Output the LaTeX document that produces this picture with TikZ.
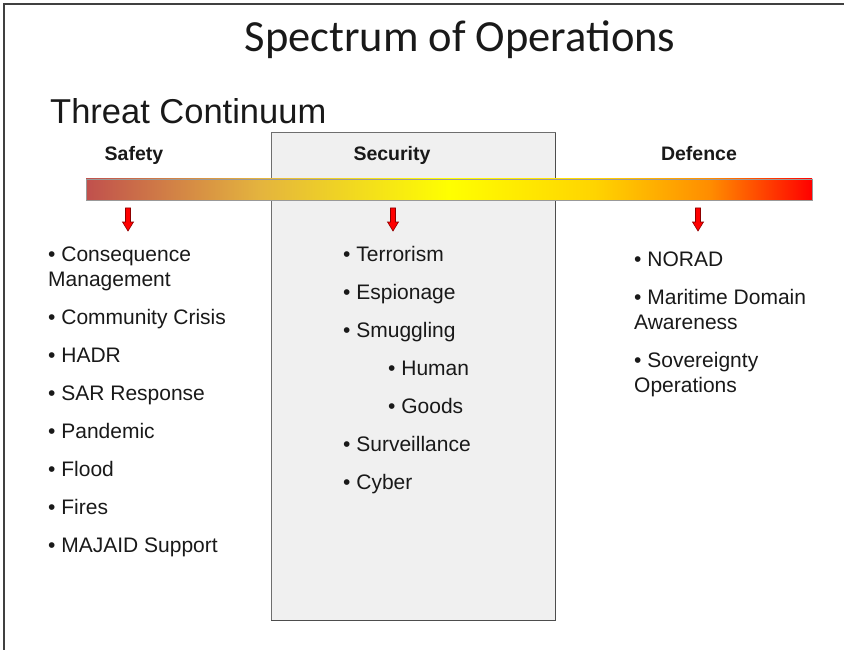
\documentclass[tikz,border=0pt]{standalone}
\usepackage{fontspec}
\setmainfont{Liberation Sans}
\newfontfamily\titlefont{Carlito}
\usepackage{tikz}

\definecolor{barleft}{RGB}{192,80,77}
\definecolor{bartan}{RGB}{228,180,62}
\definecolor{baryel}{RGB}{255,255,0}
\definecolor{bargold}{RGB}{255,212,0}
\definecolor{barorange}{RGB}{255,140,0}
\definecolor{barright}{RGB}{255,0,0}
\definecolor{boxfill}{RGB}{240,240,240}
\definecolor{boxline}{RGB}{110,110,110}
\definecolor{inktext}{RGB}{25,25,25}
\pgfdeclarehorizontalshading{threatbar}{100bp}{color(0bp)=(barleft); color(25bp)=(barleft);
  color(37bp)=(bartan); color(50bp)=(baryel); color(60bp)=(bargold);
  color(68bp)=(barorange); color(75bp)=(barright); color(100bp)=(barright)}

\tikzset{
  item/.style={font=\fontsize{21}{25}\selectfont, text=inktext, anchor=base west, inner sep=0pt},
  head/.style={font=\bfseries\fontsize{19.5}{23}\selectfont, text=inktext, anchor=base, inner sep=0pt},
  downarrow/.style={fill=red, draw=red!55!black, line width=0.6pt},
}

\begin{document}
\begin{tikzpicture}[x=1pt,y=-1pt]
\useasboundingbox (0,0) rectangle (844,650);
% frame
\draw[line width=2pt,black!75] (844,4) -- (4,4) -- (4,650);
% titles
\node[font=\titlefont\fontsize{44.5}{50}\selectfont, text=inktext, anchor=base] (title) at (460,52) {Spectrum of Operations};
\node[font=\fontsize{34.5}{40}\selectfont, text=inktext, anchor=base west, inner sep=0pt] (continuum) at (50,124) {Threat Continuum};
% security column
\draw[fill=boxfill, draw=boxline, line width=1pt] (271,133) rectangle (555,620);
\draw[boxline!70!black, line width=1pt] (271,620) -- (555,620) -- (555,133);
% gradient bar
\draw[draw=gray!80, shading=threatbar] (86,179) rectangle (812,200);
% column headings
\node[head] (safety) at (134,161) {Safety};
\node[head] (security) at (392,161) {Security};
\node[head] (defence) at (699,161) {Defence};
% red arrows under the bar
\foreach \ax in {128,393,698} {
  \draw[downarrow] (\ax-2.5,208) -- (\ax+2.5,208) -- (\ax+2.5,222) -- (\ax+5.5,222)
    -- (\ax,231) -- (\ax-5.5,222) -- (\ax-2.5,222) -- cycle;
}
% Safety items
\foreach \ty/\txt [count=\i] in {261/{• Consequence}, 286/Management, 324/{• Community Crisis},
  362/{• HADR}, 400/{• SAR Response}, 438/{• Pandemic}, 476/{• Flood}, 514/{• Fires},
  552/{• MAJAID Support}} {
  \node[item] (safe\i) at (48,\ty) {\txt};
}
% Security items
\foreach \ty/\tx/\txt [count=\i] in {261/343/{• Terrorism}, 299/343/{• Espionage},
  337/343/{• Smuggling}, 375/388/{• Human}, 413/388/{• Goods}, 451/343/{• Surveillance},
  489/343/{• Cyber}} {
  \node[item] (sec\i) at (\tx,\ty) {\txt};
}
% Defence items
\foreach \ty/\txt [count=\i] in {266/{• NORAD}, 304/{• Maritime Domain}, 329/Awareness,
  367/{• Sovereignty}, 392/Operations} {
  \node[item] (def\i) at (634,\ty) {\txt};
}
\end{tikzpicture}
\end{document}
